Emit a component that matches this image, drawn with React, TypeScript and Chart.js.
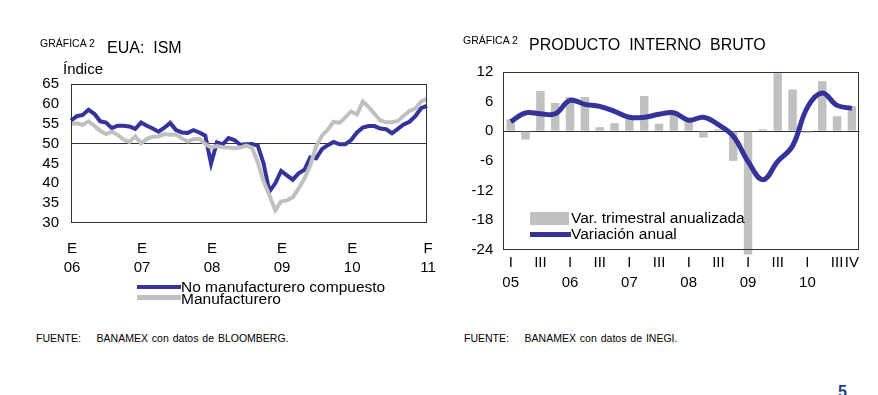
import React, { useEffect, useRef } from 'react';
import { Chart, registerables } from 'chart.js';

Chart.register(...registerables);

// ---------- Left chart: EUA ISM (monthly, Jan 2006 - Feb 2011) ----------
const monthCategories = [
  '2006-01','2006-02','2006-03','2006-04','2006-05','2006-06','2006-07','2006-08','2006-09','2006-10','2006-11','2006-12',
  '2007-01','2007-02','2007-03','2007-04','2007-05','2007-06','2007-07','2007-08','2007-09','2007-10','2007-11','2007-12',
  '2008-01','2008-02','2008-03','2008-04','2008-05','2008-06','2008-07','2008-08','2008-09','2008-10','2008-11','2008-12',
  '2009-01','2009-02','2009-03','2009-04','2009-05','2009-06','2009-07','2009-08','2009-09','2009-10','2009-11','2009-12',
  '2010-01','2010-02','2010-03','2010-04','2010-05','2010-06','2010-07','2010-08','2010-09','2010-10','2010-11','2010-12',
  '2011-01','2011-02',
];

const monthTickLabels: Record<string, string[]> = {
  '2006-01': ['E', '06'],
  '2007-01': ['E', '07'],
  '2008-01': ['E', '08'],
  '2009-01': ['E', '09'],
  '2010-01': ['E', '10'],
  '2011-02': ['F', '11'],
};

const noManufacturero = [
  55.8, 56.9, 57.2, 58.5, 57.5, 55.6, 55.3, 53.9, 54.5, 54.5, 54.3, 53.7,
  55.3, 54.5, 53.8, 53.0, 54.0, 55.2, 53.4, 52.8, 52.7, 53.4, 52.8, 52.0,
  45.0, 50.3, 49.8, 51.4, 50.9, 49.7, 49.8, 49.9, 49.5, 45.0, 37.9, 40.0,
  43.1, 42.0, 40.9, 42.5, 43.4, 46.5, 46.3, 48.6, 49.6, 50.4, 49.8, 49.8,
  50.9, 52.8, 54.0, 54.4, 54.4, 53.8, 53.6, 52.6, 53.7, 54.8, 55.5, 56.9,
  58.9, 59.5,
];

const manufacturero = [
  55.0, 55.1, 54.7, 55.6, 54.5, 53.2, 52.4, 53.0, 52.2, 51.0, 50.4, 51.8,
  50.1, 51.2, 51.7, 51.8, 52.4, 52.2, 52.3, 51.3, 50.5, 51.1, 51.2, 49.9,
  49.0, 49.4, 49.1, 49.0, 48.8, 49.0, 49.5, 49.0, 45.3, 40.5, 37.0, 33.2,
  35.4, 35.7, 36.5, 38.7, 41.2, 44.5, 49.3, 52.0, 53.5, 55.5, 55.2, 56.6,
  58.1, 57.3, 60.6, 59.2, 57.5, 55.8, 55.4, 55.4, 55.7, 57.0, 58.2, 58.8,
  60.6, 61.3,
];

// ---------- Right chart: PIB (quarterly, 2005 I - 2010 IV) ----------
const quarterCategories = [
  '2005-I','2005-II','2005-III','2005-IV',
  '2006-I','2006-II','2006-III','2006-IV',
  '2007-I','2007-II','2007-III','2007-IV',
  '2008-I','2008-II','2008-III','2008-IV',
  '2009-I','2009-II','2009-III','2009-IV',
  '2010-I','2010-II','2010-III','2010-IV',
];

const quarterTickLabels: string[][] = [
  ['I', '05'], ['', ''], ['III', ''], ['', ''],
  ['I', '06'], ['', ''], ['III', ''], ['', ''],
  ['I', '07'], ['', ''], ['III', ''], ['', ''],
  ['I', '08'], ['', ''], ['III', ''], ['', ''],
  ['I', '09'], ['', ''], ['III', ''], ['', ''],
  ['I', '10'], ['', ''], ['III', ''], ['IV', ''],
];

const varTrimestral = [
  2.4, -1.7, 8.1, 5.7,
  6.9, 6.9, 0.8, 1.6,
  2.8, 7.1, 1.5, 3.4,
  2.1, -1.3, 0.35, -6.0,
  -24.9, 0.35, 11.7, 8.4,
  -0.35, 10.1, 3.0, 5.0,
];

const variacionAnual = [
  1.9, 3.7, 3.5, 3.5,
  6.2, 5.4, 5.0, 4.0,
  2.8, 2.8, 3.4, 3.7,
  2.2, 2.8, 1.3, -1.0,
  -6.1, -9.8, -6.1, -3.0,
  4.8, 7.7, 5.2, 4.6,
];

const FONT = "'Liberation Sans', Arial, sans-serif";
const BLUE = '#333399';
const GRAY = '#C0C0C0';
const FRAME = '#303040';

const framePlugin = {
  id: 'frameBox',
  afterDatasetsDraw(chart: any) {
    const { ctx, chartArea } = chart;
    const l = Math.round(chartArea.left) + 0.5;
    const t = Math.round(chartArea.top) + 0.5;
    const r = Math.round(chartArea.right) - 0.5;
    const b = Math.round(chartArea.bottom) - 0.5;
    ctx.save();
    ctx.strokeStyle = FRAME;
    ctx.lineWidth = 1;
    ctx.strokeRect(l, t, r - l, b - t);
    ctx.restore();
  },
};

function IsmChart() {
  const ref = useRef<HTMLCanvasElement | null>(null);
  useEffect(() => {
    if (!ref.current) return;
    const chart = new Chart(ref.current, {
      type: 'line',
      data: {
        labels: monthCategories,
        datasets: [
          {
            label: 'Manufacturero',
            data: manufacturero,
            borderColor: GRAY,
            borderWidth: 4,
            pointRadius: 0,
            tension: 0,
            order: 0,
          },
          {
            label: 'No manufacturero compuesto',
            data: noManufacturero,
            borderColor: BLUE,
            borderWidth: 4,
            pointRadius: 0,
            tension: 0,
            order: 1,
          },
        ],
      },
      options: {
        responsive: false,
        animation: false,
        layout: { padding: { left: 0, right: 13, top: 84, bottom: 37 } },
        plugins: { legend: { display: false }, tooltip: { enabled: false } },
        scales: {
          x: {
            type: 'category',
            offset: false,
            grid: { display: false, drawTicks: false },
            border: { display: false },
            ticks: {
              autoSkip: false,
              maxRotation: 0,
              minRotation: 0,
              padding: 16,
              labelOffset: 1,
              color: '#000',
              font: { family: FONT, size: 15, lineHeight: 1.27 },
              callback: (_v: any, i: number) => monthTickLabels[monthCategories[i]] ?? '',
            },
            afterFit: (s: any) => { s.height = 60; s.paddingLeft = 0; s.paddingRight = 0; },
          },
          y: {
            min: 30,
            max: 65,
            grid: {
              drawTicks: false,
              color: (c: any) => (c.tick && c.tick.value === 50 ? FRAME : 'rgba(0,0,0,0)'),
              lineWidth: 1,
            },
            border: { display: false },
            ticks: {
              stepSize: 5,
              autoSkip: false,
              padding: 12,
              color: '#000',
              font: { family: FONT, size: 15 },
            },
            afterFit: (s: any) => { s.width = 71; s.paddingTop = 0; s.paddingBottom = 0; },
          },
        },
      },
      plugins: [framePlugin],
    } as any);
    return () => chart.destroy();
  }, []);
  return <canvas ref={ref} width={440} height={320} style={{ position: 'absolute', left: 0, top: 0, width: 440, height: 320 }} />;
}

function PibChart() {
  const ref = useRef<HTMLCanvasElement | null>(null);
  useEffect(() => {
    if (!ref.current) return;
    const chart = new Chart(ref.current, {
      type: 'bar',
      data: {
        labels: quarterCategories,
        datasets: [
          {
            type: 'line',
            label: 'Variación anual',
            data: variacionAnual,
            borderColor: BLUE,
            borderWidth: 5,
            pointRadius: 0,
            tension: 0.4,
            order: 0,
          },
          {
            type: 'bar',
            label: 'Var. trimestral anualizada',
            data: varTrimestral,
            backgroundColor: GRAY,
            borderWidth: 0,
            barPercentage: 0.57,
            categoryPercentage: 1,
            clip: false,
            order: 1,
          },
        ],
      },
      options: {
        responsive: false,
        animation: false,
        layout: { padding: { left: 0, right: 18.7, top: 71.7, bottom: 10 } },
        plugins: { legend: { display: false }, tooltip: { enabled: false } },
        scales: {
          x: {
            type: 'category',
            offset: true,
            grid: { display: false, drawTicks: false },
            border: { display: false },
            ticks: {
              autoSkip: false,
              maxRotation: 0,
              minRotation: 0,
              padding: 3,
              color: '#000',
              font: { family: FONT, size: 15, lineHeight: 1.33 },
              callback: (_v: any, i: number) => quarterTickLabels[i],
            },
            afterFit: (s: any) => { s.height = 60; s.paddingLeft = 0; s.paddingRight = 0; },
          },
          y: {
            min: -24,
            max: 12,
            grid: {
              drawTicks: false,
              color: (c: any) => (c.tick && c.tick.value === 0 ? FRAME : 'rgba(0,0,0,0)'),
              lineWidth: 1,
            },
            border: { display: false },
            ticks: {
              stepSize: 6,
              autoSkip: false,
              padding: 10,
              color: '#000',
              font: { family: FONT, size: 15 },
            },
            afterFit: (s: any) => { s.width = 63.3; s.paddingTop = 0; s.paddingBottom = 0; },
          },
        },
      },
      plugins: [framePlugin],
    } as any);
    return () => chart.destroy();
  }, []);
  return <canvas ref={ref} width={438} height={320} style={{ position: 'absolute', left: 440, top: 0, width: 438, height: 320 }} />;
}

function Txt(props: { x: number; cy: number; size: number; children: React.ReactNode; color?: string; bold?: boolean; ws?: number }) {
  return (
    <div
      style={{
        position: 'absolute',
        left: props.x,
        top: props.cy - props.size / 2,
        fontSize: props.size,
        lineHeight: `${props.size}px`,
        fontFamily: FONT,
        color: props.color ?? '#000',
        fontWeight: props.bold ? 700 : 400,
        whiteSpace: 'pre',
        wordSpacing: props.ws ?? 0,
      }}
    >
      {props.children}
    </div>
  );
}

function Swatch(props: { x: number; y: number; w: number; h: number; color: string }) {
  return <div style={{ position: 'absolute', left: props.x, top: props.y, width: props.w, height: props.h, background: props.color }} />;
}

export default function App() {
  return (
    <div style={{ position: 'absolute', left: 0, top: 0, width: 878, height: 395, overflow: 'hidden', background: '#fff' }}>
      <IsmChart />
      <PibChart />

      {/* Left titles */}
      <Txt x={40} cy={43.5} size={10.5}>GRÁFICA 2</Txt>
      <Txt x={107} cy={48} size={16}>EUA:  ISM</Txt>
      <Txt x={63} cy={68} size={15}>Índice</Txt>

      {/* Left legend */}
      <Swatch x={137} y={284.5} w={44} h={4.5} color={BLUE} />
      <Txt x={181} cy={286.5} size={15.5}>No manufacturero compuesto</Txt>
      <Swatch x={137} y={295} w={44} h={4.5} color={GRAY} />
      <Txt x={181} cy={298.5} size={15.5}>Manufacturero</Txt>

      {/* Right titles */}
      <Txt x={463} cy={40.5} size={10.5}>GRÁFICA 2</Txt>
      <Txt x={529} cy={44.5} size={16}>PRODUCTO  INTERNO  BRUTO</Txt>

      {/* Right legend */}
      <Swatch x={530} y={212} w={39} h={13} color={GRAY} />
      <Txt x={571} cy={218} size={15.5}>Var. trimestral anualizada</Txt>
      <Swatch x={530} y={231.5} w={41} h={5} color={BLUE} />
      <Txt x={571} cy={233.5} size={15.5}>Variación anual</Txt>

      {/* Sources */}
      <Txt x={36} cy={338} size={10.5} ws={1}>{'FUENTE:    BANAMEX con datos de BLOOMBERG.'}</Txt>
      <Txt x={464} cy={338} size={10.5} ws={1}>{'FUENTE:    BANAMEX con datos de INEGI.'}</Txt>

      {/* Page number */}
      <Txt x={838} cy={392} size={16} bold color="#1F3F7A">5</Txt>
    </div>
  );
}
